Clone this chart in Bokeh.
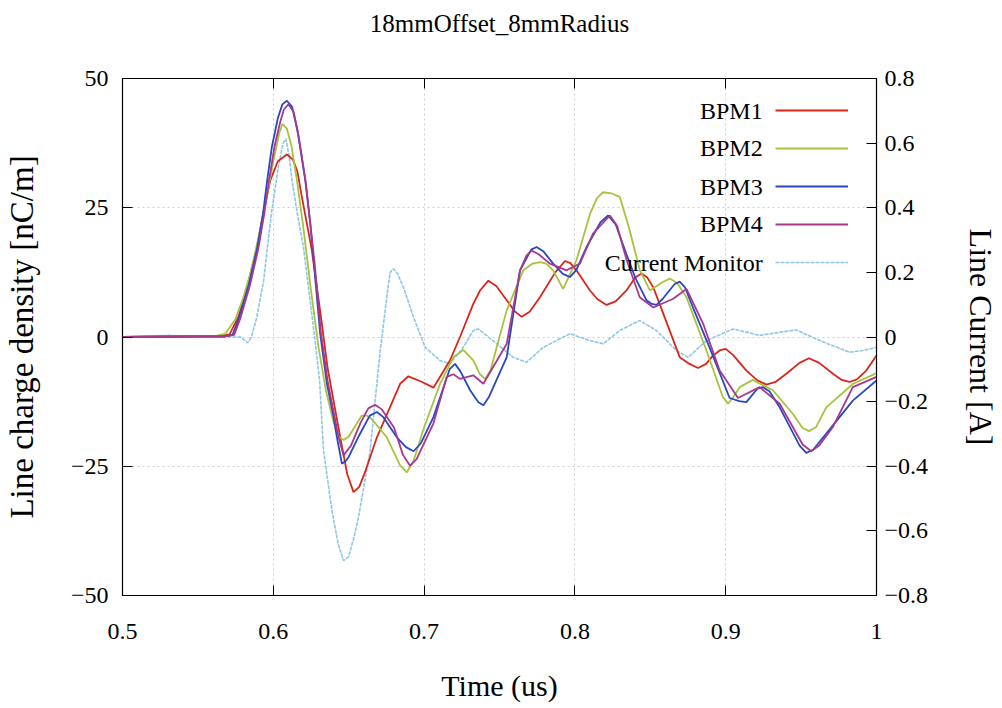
from bokeh.plotting import figure
from bokeh.models import Range1d, LinearAxis, FixedTicker, Legend, LegendItem, Label
from bokeh.embed import file_html
from bokeh.resources import INLINE

# ---------------- data ----------------
title_text = "18mmOffset_8mmRadius"
x_ticks = [0.5, 0.6, 0.7, 0.8, 0.9, 1.0]
y_left_ticks = [-50, -25, 0, 25, 50]
y_right_ticks = [-0.8, -0.6, -0.4, -0.2, 0.0, 0.2, 0.4, 0.6, 0.8]

bpm1_t = [0.500, 0.540, 0.565, 0.571, 0.577, 0.5837, 0.5892, 0.5932, 0.598, 0.603, 0.609, 0.613, 0.616,
          0.619, 0.6256, 0.632, 0.636, 0.641, 0.6444, 0.649, 0.6532, 0.657, 0.661, 0.6687, 0.6841, 0.6896,
          0.698, 0.7062, 0.7172, 0.7238, 0.7326, 0.7371, 0.7426, 0.748, 0.7548, 0.760, 0.7647, 0.770,
          0.7768, 0.787, 0.7934, 0.797, 0.801, 0.810, 0.815, 0.821, 0.827, 0.8342, 0.840, 0.8442, 0.848,
          0.852, 0.8695, 0.876, 0.8817, 0.887, 0.8916, 0.896, 0.900, 0.905, 0.9137, 0.921, 0.9269, 0.933,
          0.9402, 0.949, 0.9552, 0.962, 0.9711, 0.977, 0.9821, 0.987, 0.9932, 1.000]
bpm1_v = [0.0, 0.1, 0.2, 0.5, 4.0, 10.9, 17.4, 23.8, 30.3, 34.0, 35.3, 34.3, 32.0,
          27.0, 16.7, 3.0, -6.0, -14.0, -19.4, -26.5, -30.0, -29.0, -26.0, -19.4, -9.05, -7.6,
          -8.6, -9.8, -4.5, 0.0, 6.4, 9.0, 10.9, 9.8, 7.1, 5.0, 3.9, 4.9,
          7.7, 12.5, 14.7, 14.3, 12.9, 9.0, 7.3, 6.2, 6.9, 9.0, 11.5, 12.3, 11.5,
          9.6, -3.9, -5.2, -6.0, -5.2, -3.6, -2.6, -2.3, -3.5, -6.5, -8.4, -9.2, -8.7,
          -7.1, -5.0, -4.1, -5.0, -7.1, -8.3, -8.7, -8.2, -6.5, -3.6]

bpm2_t = [0.500, 0.540, 0.562, 0.568, 0.575, 0.580, 0.585, 0.590, 0.595, 0.600, 0.604, 0.606, 0.609,
          0.612, 0.6157, 0.620, 0.625, 0.630, 0.635, 0.640, 0.643, 0.6466, 0.650, 0.6535, 0.6587, 0.662,
          0.665, 0.6753, 0.684, 0.6885, 0.693, 0.6995, 0.7106, 0.7194, 0.726, 0.7326, 0.737, 0.7404,
          0.744, 0.7548, 0.7658, 0.772, 0.7768, 0.781, 0.7856, 0.7922, 0.801, 0.810, 0.8145, 0.8187,
          0.824, 0.8298, 0.836, 0.843, 0.8497, 0.858, 0.8629, 0.868, 0.874, 0.8872, 0.898, 0.9015, 0.905,
          0.9093, 0.918, 0.9313, 0.9446, 0.951, 0.9552, 0.960, 0.9667, 0.9843, 1.000]
bpm2_v = [0.0, 0.2, 0.2, 0.6, 3.5, 7.5, 12.5, 19.0, 26.0, 34.0, 39.5, 41.2, 40.3,
          37.0, 30.3, 21.0, 9.0, -2.0, -10.5, -16.5, -19.2, -19.9, -19.3, -17.6, -15.2, -15.2,
          -15.8, -19.4, -24.8, -26.2, -24.0, -17.9, -9.05, -3.9, -2.5, -4.5, -7.2, -8.1,
          -6.5, 5.2, 12.9, 14.2, 14.5, 14.2, 12.9, 9.3, 14.8, 23.8, 26.8, 28.0,
          27.8, 27.1, 21.0, 13.0, 9.0, 10.6, 11.3, 10.4, 7.7, -2.6, -11.5, -12.9, -11.6,
          -9.7, -8.3, -10.3, -14.9, -17.6, -18.2, -17.4, -13.6, -9.1, -7.0]

bpm3_t = [0.500, 0.540, 0.568, 0.573, 0.577, 0.5837, 0.5892, 0.5932, 0.5958, 0.599, 0.603, 0.606, 0.609,
          0.6125, 0.616, 0.6212, 0.6245, 0.6267, 0.6311, 0.6356, 0.640, 0.6422, 0.6455, 0.648, 0.650,
          0.657, 0.664, 0.6687, 0.673, 0.6819, 0.688, 0.693, 0.698, 0.7062, 0.717, 0.7205, 0.724, 0.7305,
          0.736, 0.7393, 0.743, 0.7548, 0.7636, 0.771, 0.7746, 0.779, 0.7856, 0.792, 0.7967, 0.801,
          0.8077, 0.817, 0.822, 0.827, 0.8342, 0.840, 0.8475, 0.851, 0.8541, 0.858, 0.866, 0.8695, 0.873,
          0.8783, 0.8894, 0.9026, 0.909, 0.9137, 0.921, 0.9247, 0.929, 0.9358, 0.949, 0.9534, 0.958,
          0.9667, 0.9843, 1.000]
bpm3_v = [0.0, 0.1, 0.1, 0.4, 3.5, 10.0, 17.0, 23.8, 30.0, 36.7, 42.3, 45.0, 45.7,
          44.5, 40.0, 30.3, 22.0, 15.0, 0.6, -9.1, -15.5, -19.4, -24.5, -24.0, -23.2,
          -19.0, -15.2, -14.5, -15.5, -19.4, -21.3, -22.1, -20.5, -15.5, -6.2, -5.2, -6.6, -10.3,
          -12.6, -13.2, -11.6, -3.9, 12.9, 16.9, 17.4, 16.6, 14.2, 12.2, 11.6, 13.0,
          17.4, 22.2, 23.5, 21.8, 16.0, 11.5, 7.1, 6.4, 6.2, 7.3, 10.2, 10.7, 9.6,
          5.7, -2.1, -11.8, -12.4, -12.6, -10.0, -9.7, -10.5, -13.6, -21.0, -22.4, -21.8,
          -18.7, -12.3, -8.4]

bpm4_t = [0.500, 0.540, 0.568, 0.574, 0.578, 0.5845, 0.590, 0.594, 0.597, 0.6007, 0.6045, 0.607, 0.610,
          0.6135, 0.617, 0.6215, 0.626, 0.6275, 0.6315, 0.636, 0.640, 0.643, 0.6466, 0.6515, 0.658,
          0.663, 0.6675, 0.672, 0.680, 0.686, 0.6907, 0.695, 0.7062, 0.715, 0.7194, 0.7238, 0.7326,
          0.7393, 0.7548, 0.7636, 0.768, 0.7713, 0.776, 0.7834, 0.7945, 0.8033, 0.812, 0.8232, 0.828,
          0.8342, 0.843, 0.852, 0.8652, 0.874, 0.885, 0.896, 0.9082, 0.9225, 0.9358, 0.951, 0.9567,
          0.962, 0.9711, 0.9843, 1.000]
bpm4_v = [0.0, 0.1, 0.1, 0.4, 3.5, 10.0, 17.0, 23.8, 30.0, 36.7, 41.5, 44.0, 45.0,
          43.5, 38.5, 30.0, 18.0, 14.0, 1.0, -8.5, -14.5, -19.0, -22.9, -21.0, -16.5,
          -13.8, -13.1, -14.0, -17.5, -22.8, -24.9, -23.6, -16.7, -7.7, -7.2, -8.1, -7.4,
          -9.05, -1.3, 12.9, 15.8, 16.7, 16.0, 14.2, 12.9, 14.2, 20.0, 23.5, 21.5,
          15.0, 7.7, 5.7, 7.4, 9.3, 2.6, -6.5, -11.8, -9.7, -12.9, -20.8, -22.1,
          -21.0, -17.4, -9.7, -7.7]

cur_t = [0.500, 0.530, 0.560, 0.578, 0.581, 0.583, 0.5855, 0.589, 0.5936, 0.5987, 0.6035, 0.6065, 0.6084,
         0.6105, 0.6124, 0.616, 0.620, 0.6274, 0.6307, 0.6333, 0.6389, 0.643, 0.6466, 0.650, 0.6535,
         0.6565, 0.6642, 0.6709, 0.6764, 0.6775, 0.6797, 0.6825, 0.6863, 0.693, 0.7007, 0.7106, 0.7172,
         0.726, 0.7326, 0.736, 0.7481, 0.7591, 0.768, 0.779, 0.7967, 0.810, 0.8187, 0.8298, 0.843,
         0.8541, 0.8673, 0.8751, 0.8872, 0.9049, 0.9225, 0.9467, 0.9623, 0.9821, 0.9909, 1.000]
cur_v = [0.0, 0.005, 0.0, 0.0, -0.01, -0.018, 0.0, 0.06, 0.175, 0.381, 0.53, 0.60, 0.613,
         0.56, 0.484, 0.38, 0.278, 0.0, -0.135, -0.351, -0.537, -0.64, -0.692, -0.68, -0.62,
         -0.558, -0.351, -0.042, 0.165, 0.20, 0.211, 0.195, 0.154, 0.061, -0.032, -0.073, -0.083,
         -0.032, 0.02, 0.025, -0.021, -0.063, -0.078, -0.032, 0.010, -0.011, -0.021, 0.020, 0.051,
         0.020, -0.042, -0.063, -0.011, 0.025, 0.005, 0.022, -0.011, -0.047, -0.042, -0.032]

series_names = ["BPM1", "BPM2", "BPM3", "BPM4", "Current Monitor"]
series_colors = ["#d8261c", "#a8c23e", "#2a47c2", "#a8388e", "#8fc6e8"]

FONT = "Liberation Serif"

# ---------------- figure ----------------
p = figure(width=1002, height=708, x_range=Range1d(0.5, 1.0), y_range=Range1d(-50, 50),
           output_backend="svg", toolbar_location=None,
           min_border_left=122, min_border_right=125, min_border_top=78, min_border_bottom=113)
p.extra_y_ranges = {"cur": Range1d(-0.8, 0.8)}
p.background_fill_color = "white"
p.border_fill_color = "white"
p.outline_line_color = "black"
p.outline_line_width = 1.2


def style_axis(ax, label_size="24px"):
    ax.major_tick_in = 10
    ax.major_tick_out = 0
    ax.minor_tick_line_color = None
    ax.major_tick_line_color = "black"
    ax.axis_line_color = "black"
    ax.major_label_text_font = FONT
    ax.major_label_text_font_size = label_size
    ax.major_label_text_color = "black"
    ax.axis_label_text_font = FONT
    ax.axis_label_text_font_style = "normal"
    ax.axis_label_text_color = "black"


xa = p.xaxis[0]
style_axis(xa)
xa.ticker = FixedTicker(ticks=x_ticks)
xa.major_label_overrides = {1: "1"}
xa.axis_label = "Time (us)"
xa.axis_label_text_font_size = "30px"
xa.major_label_standoff = 28
xa.axis_label_standoff = 27

ya = p.yaxis[0]
style_axis(ya)
ya.ticker = FixedTicker(ticks=y_left_ticks)
ya.axis_label = "Line charge density [nC/m]"
ya.axis_label_text_font_size = "33px"
ya.major_label_standoff = 14
ya.axis_label_standoff = 28

ra = LinearAxis(y_range_name="cur", ticker=FixedTicker(ticks=y_right_ticks))
style_axis(ra)
ra.major_label_overrides = {0: "0"}
ra.axis_label = "Line Current [A]"
ra.axis_label_text_font_size = "32px"
ra.major_label_standoff = 8
ra.axis_label_standoff = 32
p.add_layout(ra, "right")

# top (mirror) axis: inward ticks only; its label carries the chart title
ta = LinearAxis(ticker=FixedTicker(ticks=x_ticks))
style_axis(ta, "0px")
ta.major_label_text_alpha = 0
ta.major_label_standoff = 0
ta.axis_label = title_text
ta.axis_label_text_font_size = "25px"
ta.axis_label_standoff = 42
p.add_layout(ta, "above")

for g in (p.xgrid[0], p.ygrid[0]):
    g.grid_line_color = "#cfcfcf"
    g.grid_line_dash = "2 3"
    g.grid_line_width = 1
p.xgrid[0].ticker = FixedTicker(ticks=x_ticks)
p.ygrid[0].ticker = FixedTicker(ticks=y_left_ticks)

# ---------------- lines ----------------
r_cur = p.line(cur_t, cur_v, y_range_name="cur", line_color=series_colors[4], line_width=1.6, line_dash="4 1")
r1 = p.line(bpm1_t, bpm1_v, line_color=series_colors[0], line_width=1.8)
r2 = p.line(bpm2_t, bpm2_v, line_color=series_colors[1], line_width=1.8)
r3 = p.line(bpm3_t, bpm3_v, line_color=series_colors[2], line_width=1.8)
r4 = p.line(bpm4_t, bpm4_v, line_color=series_colors[3], line_width=1.8)

# legend: gnuplot style (text right-aligned, sample line to its right)
items = [LegendItem(label=" ", renderers=[r]) for r in [r1, r2, r3, r4, r_cur]]
leg = Legend(items=items, location=(653, 318), glyph_width=73, glyph_height=30, label_height=30,
             label_width=1, spacing=8, padding=0, margin=0, label_standoff=0,
             label_text_font_size="2px", border_line_color=None, background_fill_alpha=0)
p.add_layout(leg)

legend_text_x = 0.9245
legend_text_y = [43.8, 36.5, 29.0, 21.8, 14.3]
for name, ly in zip(series_names, legend_text_y):
    p.add_layout(Label(x=legend_text_x, y=ly, text=name, text_align="right", text_baseline="middle",
                       text_font=FONT, text_font_size="24px", text_color="black"))

open("out.html", "w").write(file_html(p, INLINE))
